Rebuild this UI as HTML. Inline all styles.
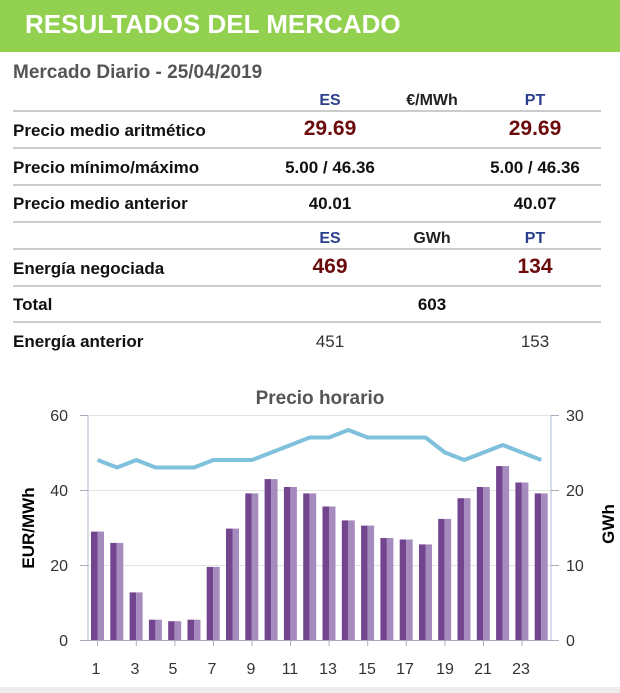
<!DOCTYPE html>
<html><head><meta charset="utf-8"><style>
body{margin:0;width:620px;height:693px;background:#fff;font-family:"Liberation Sans",Arial,sans-serif;overflow:hidden;position:relative}
.hdr{position:absolute;left:0;top:0;width:620px;height:52px;background:#92d050}
.hdr span{position:absolute;left:25px;top:9px;color:#fff;font-weight:bold;font-size:26px}
.t{position:absolute;font-weight:bold;white-space:nowrap}
.l{position:absolute;left:13px;width:588px;height:2px;background:#ccc}
.c{transform:translateX(-50%)}
</style></head><body>
<div class="hdr"><span>RESULTADOS DEL MERCADO</span></div>
<div class="t" style="left:13px;top:62px;font-size:19px;color:#555">Mercado Diario - 25/04/2019</div>
<div class="t c" style="left:330px;top:92px;font-size:16px;color:#2b3f8c">ES</div>
<div class="t c" style="left:432px;top:92px;font-size:16px;color:#222">€/MWh</div>
<div class="t c" style="left:535px;top:92px;font-size:16px;color:#2b3f8c">PT</div>
<div class="l" style="top:110px"></div>
<div class="t" style="left:13px;top:121px;font-size:17px;color:#111">Precio medio aritmético</div>
<div class="t c" style="left:330px;top:117px;font-size:21px;color:#6b0b0b">29.69</div>
<div class="t c" style="left:535px;top:117px;font-size:21px;color:#6b0b0b">29.69</div>
<div class="l" style="top:147px"></div>
<div class="t" style="left:13px;top:158px;font-size:17px;color:#111">Precio mínimo/máximo</div>
<div class="t c" style="left:330px;top:158px;font-size:17px;color:#111">5.00 / 46.36</div>
<div class="t c" style="left:535px;top:158px;font-size:17px;color:#111">5.00 / 46.36</div>
<div class="l" style="top:184px"></div>
<div class="t" style="left:13px;top:194px;font-size:17px;color:#111">Precio medio anterior</div>
<div class="t c" style="left:330px;top:194px;font-size:17px;color:#111">40.01</div>
<div class="t c" style="left:535px;top:194px;font-size:17px;color:#111">40.07</div>
<div class="l" style="top:221px"></div>
<div class="t c" style="left:330px;top:230px;font-size:16px;color:#2b3f8c">ES</div>
<div class="t c" style="left:432px;top:230px;font-size:16px;color:#222">GWh</div>
<div class="t c" style="left:535px;top:230px;font-size:16px;color:#2b3f8c">PT</div>
<div class="l" style="top:248px"></div>
<div class="t" style="left:13px;top:259px;font-size:17px;color:#111">Energía negociada</div>
<div class="t c" style="left:330px;top:255px;font-size:21px;color:#6b0b0b">469</div>
<div class="t c" style="left:535px;top:255px;font-size:21px;color:#6b0b0b">134</div>
<div class="l" style="top:285px"></div>
<div class="t" style="left:13px;top:295px;font-size:17px;color:#111">Total</div>
<div class="t c" style="left:432px;top:295px;font-size:17px;color:#111">603</div>
<div class="l" style="top:321px"></div>
<div class="t" style="left:13px;top:332px;font-size:17px;color:#111">Energía anterior</div>
<div class="t c" style="left:330px;top:332px;font-size:17px;color:#333;font-weight:normal">451</div>
<div class="t c" style="left:535px;top:332px;font-size:17px;color:#333;font-weight:normal">153</div>

<svg style="position:absolute;left:0;top:0" width="620" height="693" font-family="Liberation Sans, Arial, sans-serif">
<rect x="0" y="687" width="620" height="6" fill="#eee"/>
<text x="320" y="404" text-anchor="middle" font-size="19" font-weight="bold" fill="#555">Precio horario</text>
<g stroke="#e3e3e3" stroke-width="1"><line x1="88" y1="415.5" x2="551" y2="415.5"/><line x1="88" y1="490.5" x2="551" y2="490.5"/><line x1="88" y1="565.5" x2="551" y2="565.5"/></g>
<g stroke="#c8d2e0" stroke-width="1.5"><line x1="88" y1="415" x2="88" y2="640"/><line x1="551" y1="415" x2="551" y2="640"/></g>
<g stroke="#aab" stroke-width="1"><line x1="80" y1="640.5" x2="551" y2="640.5"/>
<line x1="80" y1="415.5" x2="88" y2="415.5"/><line x1="80" y1="490.5" x2="88" y2="490.5"/><line x1="80" y1="565.5" x2="88" y2="565.5"/>
<line x1="551" y1="415.5" x2="559" y2="415.5"/><line x1="551" y1="490.5" x2="559" y2="490.5"/><line x1="551" y1="565.5" x2="559" y2="565.5"/><line x1="551" y1="640.5" x2="559" y2="640.5"/></g>
<g font-size="16" fill="#333" text-anchor="end"><text x="68" y="421">60</text><text x="68" y="496">40</text><text x="68" y="571">20</text><text x="68" y="646">0</text></g>
<g font-size="16" fill="#333"><text x="566" y="421">30</text><text x="566" y="496">20</text><text x="566" y="571">10</text><text x="566" y="646">0</text></g>
<text transform="translate(34,528) rotate(-90)" text-anchor="middle" font-size="17" font-weight="bold">EUR/MWh</text>
<text transform="translate(614,524) rotate(-90)" text-anchor="middle" font-size="17" font-weight="bold">GWh</text>
<g id="bars">
<g transform="translate(88,0)"><rect x="3" y="531.6" width="6.5" height="108.4" fill="#74458f"/><rect x="9.5" y="531.6" width="6.5" height="108.4" fill="#a68bbf"/></g>
<g transform="translate(107.3,0)"><rect x="3" y="542.9" width="6.5" height="97.1" fill="#74458f"/><rect x="9.5" y="542.9" width="6.5" height="97.1" fill="#a68bbf"/></g>
<g transform="translate(126.6,0)"><rect x="3" y="592.4" width="6.5" height="47.6" fill="#74458f"/><rect x="9.5" y="592.4" width="6.5" height="47.6" fill="#a68bbf"/></g>
<g transform="translate(145.9,0)"><rect x="3" y="619.7" width="6.5" height="20.3" fill="#74458f"/><rect x="9.5" y="619.7" width="6.5" height="20.3" fill="#a68bbf"/></g>
<g transform="translate(165.2,0)"><rect x="3" y="621.2" width="6.5" height="18.8" fill="#74458f"/><rect x="9.5" y="621.2" width="6.5" height="18.8" fill="#a68bbf"/></g>
<g transform="translate(184.5,0)"><rect x="3" y="619.7" width="6.5" height="20.3" fill="#74458f"/><rect x="9.5" y="619.7" width="6.5" height="20.3" fill="#a68bbf"/></g>
<g transform="translate(203.7,0)"><rect x="3" y="566.9" width="6.5" height="73.1" fill="#74458f"/><rect x="9.5" y="566.9" width="6.5" height="73.1" fill="#a68bbf"/></g>
<g transform="translate(223,0)"><rect x="3" y="528.6" width="6.5" height="111.4" fill="#74458f"/><rect x="9.5" y="528.6" width="6.5" height="111.4" fill="#a68bbf"/></g>
<g transform="translate(242.3,0)"><rect x="3" y="493.4" width="6.5" height="146.6" fill="#74458f"/><rect x="9.5" y="493.4" width="6.5" height="146.6" fill="#a68bbf"/></g>
<g transform="translate(261.6,0)"><rect x="3" y="479.1" width="6.5" height="160.9" fill="#74458f"/><rect x="9.5" y="479.1" width="6.5" height="160.9" fill="#a68bbf"/></g>
<g transform="translate(280.9,0)"><rect x="3" y="487" width="6.5" height="153" fill="#74458f"/><rect x="9.5" y="487" width="6.5" height="153" fill="#a68bbf"/></g>
<g transform="translate(300.2,0)"><rect x="3" y="493.4" width="6.5" height="146.6" fill="#74458f"/><rect x="9.5" y="493.4" width="6.5" height="146.6" fill="#a68bbf"/></g>
<g transform="translate(319.5,0)"><rect x="3" y="506.5" width="6.5" height="133.5" fill="#74458f"/><rect x="9.5" y="506.5" width="6.5" height="133.5" fill="#a68bbf"/></g>
<g transform="translate(338.8,0)"><rect x="3" y="520.4" width="6.5" height="119.6" fill="#74458f"/><rect x="9.5" y="520.4" width="6.5" height="119.6" fill="#a68bbf"/></g>
<g transform="translate(358.1,0)"><rect x="3" y="525.6" width="6.5" height="114.4" fill="#74458f"/><rect x="9.5" y="525.6" width="6.5" height="114.4" fill="#a68bbf"/></g>
<g transform="translate(377.4,0)"><rect x="3" y="538" width="6.5" height="102" fill="#74458f"/><rect x="9.5" y="538" width="6.5" height="102" fill="#a68bbf"/></g>
<g transform="translate(396.7,0)"><rect x="3" y="539.5" width="6.5" height="100.5" fill="#74458f"/><rect x="9.5" y="539.5" width="6.5" height="100.5" fill="#a68bbf"/></g>
<g transform="translate(416,0)"><rect x="3" y="544.4" width="6.5" height="95.6" fill="#74458f"/><rect x="9.5" y="544.4" width="6.5" height="95.6" fill="#a68bbf"/></g>
<g transform="translate(435.2,0)"><rect x="3" y="518.9" width="6.5" height="121.1" fill="#74458f"/><rect x="9.5" y="518.9" width="6.5" height="121.1" fill="#a68bbf"/></g>
<g transform="translate(454.5,0)"><rect x="3" y="498.2" width="6.5" height="141.8" fill="#74458f"/><rect x="9.5" y="498.2" width="6.5" height="141.8" fill="#a68bbf"/></g>
<g transform="translate(473.8,0)"><rect x="3" y="487" width="6.5" height="153" fill="#74458f"/><rect x="9.5" y="487" width="6.5" height="153" fill="#a68bbf"/></g>
<g transform="translate(493.1,0)"><rect x="3" y="466.1" width="6.5" height="173.9" fill="#74458f"/><rect x="9.5" y="466.1" width="6.5" height="173.9" fill="#a68bbf"/></g>
<g transform="translate(512.4,0)"><rect x="3" y="482.5" width="6.5" height="157.5" fill="#74458f"/><rect x="9.5" y="482.5" width="6.5" height="157.5" fill="#a68bbf"/></g>
<g transform="translate(531.7,0)"><rect x="3" y="493.4" width="6.5" height="146.6" fill="#74458f"/><rect x="9.5" y="493.4" width="6.5" height="146.6" fill="#a68bbf"/></g>
</g>
<polyline fill="none" stroke="#7fc0dc" stroke-width="4" stroke-linejoin="round" points="97.6,460 117,467.5 136.3,460 155.6,467.5 174.9,467.5 194.1,467.5 213.4,460 232.7,460 252,460 271.3,452.5 290.6,445 309.8,437.5 329.1,437.5 348.4,430 367.7,437.5 387,437.5 406.3,437.5 425.6,437.5 444.9,452.5 464.2,460 483.5,452.5 502.7,445 522,452.5 541.3,460"/>
<g stroke="#aab"><line x1="97.6" y1="640" x2="97.6" y2="646"/><line x1="136.3" y1="640" x2="136.3" y2="646"/><line x1="174.9" y1="640" x2="174.9" y2="646"/><line x1="213.4" y1="640" x2="213.4" y2="646"/><line x1="252" y1="640" x2="252" y2="646"/><line x1="290.6" y1="640" x2="290.6" y2="646"/><line x1="329.1" y1="640" x2="329.1" y2="646"/><line x1="367.7" y1="640" x2="367.7" y2="646"/><line x1="406.3" y1="640" x2="406.3" y2="646"/><line x1="444.9" y1="640" x2="444.9" y2="646"/><line x1="483.5" y1="640" x2="483.5" y2="646"/><line x1="522" y1="640" x2="522" y2="646"/></g>
<g font-size="16" fill="#333" text-anchor="middle">
<text x="96" y="674">1</text><text x="135" y="674">3</text><text x="173" y="674">5</text><text x="212" y="674">7</text><text x="251" y="674">9</text><text x="290" y="674">11</text><text x="328" y="674">13</text><text x="367" y="674">15</text><text x="405" y="674">17</text><text x="445" y="674">19</text><text x="483" y="674">21</text><text x="521" y="674">23</text></g>
</svg>
</body></html>
